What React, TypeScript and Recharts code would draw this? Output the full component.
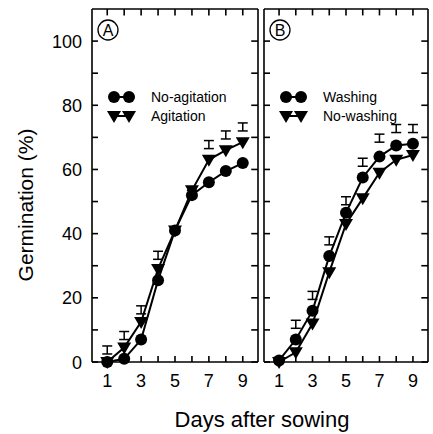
import { LineChart, Line, XAxis, YAxis, ErrorBar, Legend, ReferenceLine } from 'recharts';

const days = [1, 2, 3, 4, 5, 6, 7, 8, 9];
const xTicks = [1, 2, 3, 4, 5, 6, 7, 8, 9];
const yTicks = [0, 10, 20, 30, 40, 50, 60, 70, 80, 90, 100];
const xDomain = [0.1, 9.9];
const yDomain = [0, 110];

// panel A
const noAgitation = [0, 1, 7, 25.5, 41, 52, 56, 59.5, 62];
const agitation = [0, 4.5, 12.5, 29, 41, 53.5, 63, 66, 68.5];
const agitationErr = [5, 5, 5, 5.5, 0, 0, 6, 6, 6];

// panel B
const washing = [0.5, 7, 16, 33, 46.5, 57.5, 64, 67.5, 68];
const noWashing = [0, 3, 12, 28, 43, 51, 59, 63, 64.5];
const washingErr = [0, 6, 6, 6, 5, 6, 7, 6.5, 6];

const legendA = ['No-agitation', 'Agitation'];
const legendB = ['Washing', 'No-washing'];

// error marks drawn as short "I" above the marker
const errRange = (e) => (e > 0 ? [-(e - 2.5), e] : [0, 0]);

const dataA = days.map((d, i) => ({
  day: d,
  circle: noAgitation[i],
  tri: agitation[i],
  err: errRange(agitationErr[i]),
}));

const dataB = days.map((d, i) => ({
  day: d,
  circle: washing[i],
  tri: noWashing[i],
  err: errRange(washingErr[i]),
}));

const font = '"Liberation Sans", Arial, Helvetica, sans-serif';
const axisLine = { stroke: '#000', strokeWidth: 1.6 };
// inward tick length, in axis units
const TICK_X = 0.4;
const TICK_Y = 2;

const Circle = (props) => {
  const { cx, cy } = props;
  if (cx == null || cy == null) return null;
  return <circle cx={cx} cy={cy} r={6} fill="#000" />;
};

const Tri = (props) => {
  const { cx, cy } = props;
  if (cx == null || cy == null) return null;
  return <path d={`M${cx - 7},${cy - 5} L${cx + 7},${cy - 5} L${cx},${cy + 7} Z`} fill="#000" />;
};

const BottomTick = (props) => {
  const { x, y, payload } = props;
  const px = Number(x);
  const py = Number(y);
  return (
    <g>
      <path d={`M${px},${py} L${px},${py - 6}`} stroke="#000" strokeWidth={1.6} fill="none" />
      {payload.value % 2 === 1 && (
        <text x={px} y={py + 25} textAnchor="middle" fontSize={18} fontFamily={font} fill="#000">
          {payload.value}
        </text>
      )}
    </g>
  );
};

const LeftTick = (props) => {
  const { x, y, payload, showLabel } = props;
  const px = Number(x);
  const py = Number(y);
  return (
    <g>
      <path d={`M${px},${py} L${px + 6},${py}`} stroke="#000" strokeWidth={1.6} fill="none" />
      {showLabel && payload.value % 20 === 0 && (
        <text x={px - 10} y={py + 6.5} textAnchor="end" fontSize={18} fontFamily={font} fill="#000">
          {payload.value}
        </text>
      )}
    </g>
  );
};

const LegendBox = ({ names, tag }) => (
  <svg width={170} height={110} style={{ overflow: 'visible', display: 'block' }}>
    <circle cx={16} cy={13} r={10} fill="none" stroke="#000" strokeWidth={1.3} />
    <text x={16} y={19} textAnchor="middle" fontSize={16} fontFamily={font}>{tag}</text>
    <line x1={22} y1={80} x2={37} y2={80} stroke="#000" strokeWidth={2} />
    <circle cx={22} cy={80} r={6} fill="#000" />
    <circle cx={37} cy={80} r={6} fill="#000" />
    <text x={59} y={85} fontSize={14} fontFamily={font}>{names[0]}</text>
    <line x1={22} y1={99} x2={37} y2={99} stroke="#000" strokeWidth={2} />
    <path d="M15,94 L29,94 L22,106 Z" fill="#000" />
    <path d="M30,94 L44,94 L37,106 Z" fill="#000" />
    <text x={59} y={104} fontSize={14} fontFamily={font}>{names[1]}</text>
  </svg>
);

const tickStroke = { stroke: '#000', strokeWidth: 1.6, strokeOpacity: 1, ifOverflow: 'visible' };

// inward ticks on the top and right frame edges
const frameTicks = () => [
  ...xTicks.map((t) => (
    <ReferenceLine key={`t${t}`} segment={[{ x: t, y: yDomain[1] }, { x: t, y: yDomain[1] - TICK_Y }]} {...tickStroke} />
  )),
  ...yTicks.map((t) => (
    <ReferenceLine key={`r${t}`} segment={[{ x: xDomain[1], y: t }, { x: xDomain[1] - TICK_X, y: t }]} {...tickStroke} />
  )),
];

const Panel = ({ data, width, yWidth, right, showLabels, names, tag }) => (
  <LineChart
    width={width}
    height={434}
    data={data}
    margin={{ top: 8, right: right, bottom: 0, left: 0 }}
  >
    <XAxis
      dataKey="day"
      type="number"
      domain={xDomain}
      ticks={xTicks}
      interval={0}
      height={72}
      tickSize={0}
      tickMargin={0}
      tickLine={false}
      axisLine={axisLine}
      tick={<BottomTick />}
    />
    <XAxis
      xAxisId="top"
      orientation="top"
      type="number"
      domain={xDomain}
      height={1}
      tick={false}
      tickLine={false}
      axisLine={axisLine}
    />
    <YAxis
      type="number"
      domain={yDomain}
      ticks={yTicks}
      interval={0}
      width={yWidth}
      tickSize={0}
      tickMargin={0}
      tickLine={false}
      axisLine={axisLine}
      tick={<LeftTick showLabel={showLabels} />}
    />
    <YAxis
      yAxisId="right"
      orientation="right"
      type="number"
      domain={yDomain}
      width={1}
      tick={false}
      tickLine={false}
      axisLine={axisLine}
    />
    {frameTicks()}
    <Legend
      layout="horizontal"
      verticalAlign="middle"
      align="center"
      wrapperStyle={{ left: yWidth, top: 17, width: 170 }}
      content={() => <LegendBox names={names} tag={tag} />}
    />
    <Line
      dataKey="tri"
      type="linear"
      stroke="#000"
      strokeWidth={2}
      dot={<Tri />}
      activeDot={false}
      isAnimationActive={false}
    >
      {tag === 'A' && <ErrorBar dataKey="err" width={5} stroke="#000" strokeWidth={1.5} direction="y" />}
    </Line>
    <Line
      dataKey="circle"
      type="linear"
      stroke="#000"
      strokeWidth={2}
      dot={<Circle />}
      activeDot={false}
      isAnimationActive={false}
    >
      {tag === 'B' && <ErrorBar dataKey="err" width={5} stroke="#000" strokeWidth={1.5} direction="y" />}
    </Line>
  </LineChart>
);

export default function App() {
  return (
    <div style={{ position: 'absolute', left: 0, top: 0, width: 433, height: 434, background: '#fff', fontFamily: font }}>
      <div style={{ position: 'absolute', left: 0, top: 0 }}>
        <Panel data={dataA} width={260} yWidth={92} right={1} showLabels names={legendA} tag="A" />
      </div>
      <div style={{ position: 'absolute', left: 262, top: 0 }}>
        <Panel data={dataB} width={171} yWidth={2} right={4} showLabels={false} names={legendB} tag="B" />
      </div>
      <svg width={433} height={434} style={{ position: 'absolute', left: 0, top: 0, pointerEvents: 'none' }}>
        <text
          x={25}
          y={205}
          transform="rotate(-90 25 205)"
          textAnchor="middle"
          dominantBaseline="central"
          fontSize={21}
          fontFamily={font}
        >
          Germination (%)
        </text>
        <text x={262} y={427} textAnchor="middle" fontSize={22} fontFamily={font}>
          Days after sowing
        </text>
      </svg>
    </div>
  );
}
